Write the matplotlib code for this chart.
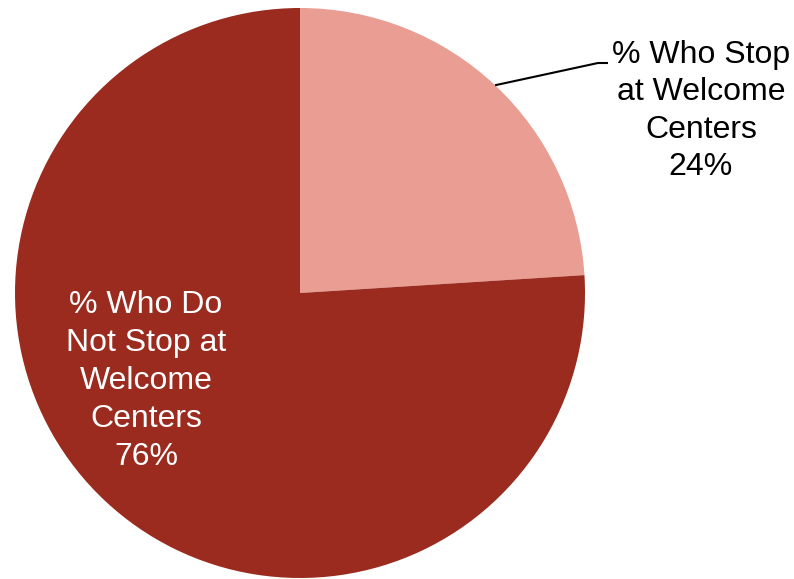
import matplotlib
matplotlib.use("Agg")
import matplotlib.pyplot as plt
import numpy as np

# share of travellers stopping at welcome centers
labels = ["% Who Stop\nat Welcome\nCenters", "% Who Do\nNot Stop at\nWelcome\nCenters"]
values = [24, 76]
colors = ["#E99D93", "#9A2B1E"]

plt.rcParams['font.family'] = ['Liberation Sans', 'DejaVu Sans']

fig = plt.figure(figsize=(7.94, 5.79), dpi=100, facecolor='w')
ax = fig.add_axes([0, 0, 1, 1])

cx, cy, r = 300, 286, 285
wedges, _ = ax.pie(values, colors=colors, startangle=90, counterclock=False,
                   center=(cx, cy), radius=r, frame=True,
                   wedgeprops=dict(linewidth=0))
ax.set_xlim(0, 794)
ax.set_ylim(0, 579)
ax.set_aspect('equal')
ax.axis('off')

# leader line for the small slice
w = wedges[0]
mid = np.deg2rad((w.theta1 + w.theta2) / 2)
x0, y0 = cx + r * np.cos(mid), cy + r * np.sin(mid)
ax.plot([x0, 598, 608], [y0, 516, 516], color='k', lw=1.5, solid_capstyle='butt')

ax.text(701, 468, labels[0] + "\n%d%%" % values[0], ha='center', va='center',
        fontsize=23, color='k', linespacing=1.33)
ax.text(146, 198, labels[1] + "\n%d%%" % values[1], ha='center', va='center',
        fontsize=23, color='w', linespacing=1.35)

fig.savefig("out.png", dpi=100, facecolor='w')
